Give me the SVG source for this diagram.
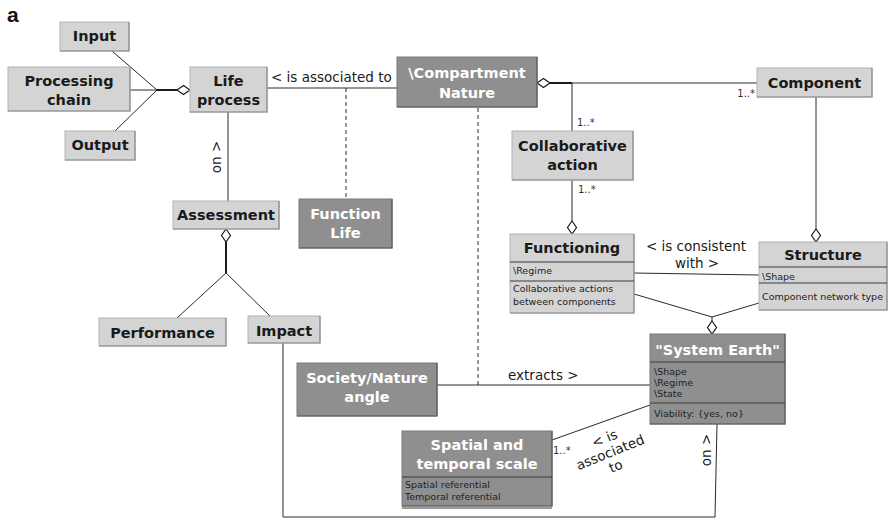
<svg xmlns="http://www.w3.org/2000/svg" width="889" height="520" viewBox="0 0 889 520">
  <style>
    .lt { fill: #d4d4d4; stroke: #b4b4b4; stroke-width: 1; }
    .dk { fill: #8f8f8f; stroke: #7a7a7a; stroke-width: 1; }
    .sh { stroke: #8a8a8a; stroke-width: 1.2; fill: none; }
    .shd { stroke: #5a5a5a; stroke-width: 1.2; fill: none; }
    .dv { stroke: #3a3a3a; stroke-width: 1; }
    .t { font-family: "DejaVu Sans", "Liberation Sans", sans-serif; font-weight: bold; font-size: 14.5px; text-anchor: middle; }
    .tl { fill: #1a1a1a; }
    .tw { fill: #ffffff; }
    .at { font-family: "DejaVu Sans", "Liberation Sans", sans-serif; font-size: 9.5px; fill: #222; }
    .lb { font-family: "DejaVu Sans", "Liberation Sans", sans-serif; font-size: 13.5px; fill: #1a1a1a; }
    .mu { font-family: "DejaVu Sans", "Liberation Sans", sans-serif; font-size: 10px; fill: #333; }
    .ln { stroke: #2a2a2a; stroke-width: 1; fill: none; }
    .th { stroke: #1a1a1a; stroke-width: 2; fill: none; }
    .ds { stroke: #2a2a2a; stroke-width: 1; stroke-dasharray: 4 3; fill: none; }
    .dm { fill: #ffffff; stroke: #1a1a1a; stroke-width: 1.2; }
  </style>

  <text x="7" y="22" style="font-family: 'Liberation Sans', Arial, sans-serif; font-weight: bold; font-size: 21px; fill: #111;">a</text>

  <!-- connectors -->
  <g id="connectors">
    <!-- Input / Processing chain / Output aggregated into Life process -->
    <line class="ln" x1="112" y1="51" x2="157" y2="90"/>
    <line class="ln" x1="130" y1="90" x2="157" y2="90"/>
    <line class="ln" x1="115" y1="131" x2="157" y2="90"/>
    <line class="th" x1="157" y1="90" x2="177" y2="90"/>
    <polygon class="dm" points="177,90 183.5,85.5 190,90 183.5,94.5"/>

    <!-- Life process to Compartment Nature -->
    <line class="ln" x1="267" y1="88" x2="397" y2="88"/>
    <text class="lb" x="271" y="82">&lt; is associated to</text>
    <line class="ds" x1="346" y1="88" x2="346" y2="199"/>

    <!-- Compartment Nature to the extracts line -->
    <line class="ds" x1="478" y1="108" x2="478" y2="385"/>

    <!-- Compartment Nature aggregates Component and Collaborative action -->
    <polygon class="dm" points="537,83 543.5,78.5 550,83 543.5,87.5"/>
    <line class="th" x1="550" y1="83" x2="572" y2="83"/>
    <line class="ln" x1="572" y1="83" x2="757" y2="83"/>
    <line class="ln" x1="572" y1="83" x2="572" y2="131"/>
    <text class="mu" x="577" y="126">1..*</text>
    <text class="mu" x="755" y="97" text-anchor="end">1..*</text>

    <!-- Collaborative action to Functioning -->
    <line class="ln" x1="572" y1="180" x2="572" y2="221"/>
    <text class="mu" x="578" y="193">1..*</text>
    <polygon class="dm" points="572,221 576.5,227.5 572,234 567.5,227.5"/>

    <!-- Component to Structure -->
    <line class="ln" x1="816" y1="97" x2="816" y2="229"/>
    <polygon class="dm" points="816,229 820.5,235.5 816,242 811.5,235.5"/>

    <!-- Functioning / Structure -->
    <line class="ln" x1="634" y1="273" x2="759" y2="275"/>
    <text class="lb" x="696" y="251" text-anchor="middle">&lt; is consistent</text>
    <text class="lb" x="697" y="268" text-anchor="middle">with &gt;</text>
    <line class="ln" x1="634" y1="294" x2="712" y2="317"/>
    <line class="ln" x1="759" y1="303" x2="712" y2="317"/>
    <line class="ln" x1="712" y1="317" x2="712" y2="321"/>
    <polygon class="dm" points="712,321 716.5,327.5 712,334 707.5,327.5"/>

    <!-- Life process on Assessment -->
    <line class="ln" x1="228" y1="112" x2="228" y2="201"/>
    <text class="lb" transform="translate(221,157) rotate(-90)" text-anchor="middle">on &gt;</text>

    <!-- Assessment aggregates Performance and Impact -->
    <polygon class="dm" points="226,229 230.5,235.5 226,242 221.5,235.5"/>
    <line class="th" x1="226" y1="242" x2="226" y2="273"/>
    <line class="ln" x1="226" y1="273" x2="177" y2="318"/>
    <line class="ln" x1="226" y1="273" x2="270" y2="316"/>

    <!-- Society/Nature angle extracts System Earth -->
    <line class="ln" x1="437" y1="385" x2="650" y2="385"/>
    <text class="lb" x="508" y="380">extracts &gt;</text>

    <!-- Spatial and temporal scale associated to System Earth -->
    <line class="ln" x1="552" y1="440" x2="650" y2="405"/>
    <text class="mu" x="553" y="454">1..*</text>
    <g transform="translate(610,452) rotate(-22)">
      <text class="lb" x="0" y="-10" text-anchor="middle">&lt; is</text>
      <text class="lb" x="0" y="5" text-anchor="middle">associated</text>
      <text class="lb" x="0" y="20" text-anchor="middle">to</text>
    </g>

    <!-- Impact on System Earth -->
    <polyline class="ln" points="283,343 283,517 715,517 717,424"/>
    <text class="lb" transform="translate(711,450) rotate(-90)" text-anchor="middle">on &gt;</text>
  </g>

  <!-- nodes -->
  <g id="input">
    <rect class="lt" x="60" y="22" width="69" height="29"/>
    <polyline class="sh" points="129,22 129,51 60,51"/>
    <text class="t tl" x="94.5" y="40.5">Input</text>
  </g>

  <g id="processing-chain">
    <rect class="lt" x="8" y="67" width="122" height="44"/>
    <polyline class="sh" points="130,67 130,111 8,111"/>
    <text class="t tl" x="69" y="86">Processing</text>
    <text class="t tl" x="69" y="105">chain</text>
  </g>

  <g id="output">
    <rect class="lt" x="65" y="131" width="70" height="29"/>
    <polyline class="sh" points="135,131 135,160 65,160"/>
    <text class="t tl" x="100" y="150">Output</text>
  </g>

  <g id="life-process">
    <rect class="lt" x="190" y="67" width="77" height="45"/>
    <polyline class="sh" points="267,67 267,112 190,112"/>
    <text class="t tl" x="228.5" y="86">Life</text>
    <text class="t tl" x="228.5" y="105">process</text>
  </g>

  <g id="compartment-nature">
    <rect class="dk" x="397" y="57" width="140" height="50"/>
    <polyline class="shd" points="537,57 537,107 397,107"/>
    <text class="t tw" x="467" y="78">\Compartment</text>
    <text class="t tw" x="467" y="98">Nature</text>
  </g>

  <g id="component">
    <rect class="lt" x="757" y="68" width="115" height="29"/>
    <polyline class="sh" points="872,68 872,97 757,97"/>
    <text class="t tl" x="814.5" y="88">Component</text>
  </g>

  <g id="collaborative-action">
    <rect class="lt" x="512" y="131" width="121" height="49"/>
    <polyline class="sh" points="633,131 633,180 512,180"/>
    <text class="t tl" x="572.5" y="151">Collaborative</text>
    <text class="t tl" x="572.5" y="170">action</text>
  </g>

  <g id="functioning">
    <rect class="lt" x="510" y="234" width="124" height="79"/>
    <polyline class="sh" points="634,234 634,313 510,313"/>
    <text class="t tl" x="572" y="253">Functioning</text>
    <line class="dv" x1="510" y1="262" x2="634" y2="262"/>
    <text class="at" x="513" y="274">\Regime</text>
    <line class="dv" x1="510" y1="281" x2="634" y2="281"/>
    <text class="at" x="513" y="292">Collaborative actions</text>
    <text class="at" x="513" y="305">between components</text>
  </g>

  <g id="structure">
    <rect class="lt" x="759" y="242" width="128" height="68"/>
    <polyline class="sh" points="887,242 887,310 759,310"/>
    <text class="t tl" x="823" y="260">Structure</text>
    <line class="dv" x1="759" y1="267" x2="887" y2="267"/>
    <text class="at" x="762" y="280">\Shape</text>
    <line class="dv" x1="759" y1="283" x2="887" y2="283"/>
    <text class="at" x="762" y="300">Component network type</text>
  </g>

  <g id="function-life">
    <rect class="dk" x="299" y="199" width="93" height="49"/>
    <polyline class="shd" points="392,199 392,248 299,248"/>
    <text class="t tw" x="345.5" y="219">Function</text>
    <text class="t tw" x="345.5" y="238">Life</text>
  </g>

  <g id="assessment">
    <rect class="lt" x="173" y="201" width="106" height="28"/>
    <polyline class="sh" points="279,201 279,229 173,229"/>
    <text class="t tl" x="226" y="219.5">Assessment</text>
  </g>

  <g id="performance">
    <rect class="lt" x="99" y="318" width="127" height="28"/>
    <polyline class="sh" points="226,318 226,346 99,346"/>
    <text class="t tl" x="162.5" y="338">Performance</text>
  </g>

  <g id="impact">
    <rect class="lt" x="248" y="316" width="72" height="27"/>
    <polyline class="sh" points="320,316 320,343 248,343"/>
    <text class="t tl" x="284" y="335.5">Impact</text>
  </g>

  <g id="system-earth">
    <rect class="dk" x="650" y="334" width="135" height="90"/>
    <polyline class="shd" points="785,334 785,424 650,424"/>
    <text class="t tw" x="717.5" y="355">"System Earth"</text>
    <line class="dv" x1="650" y1="362" x2="785" y2="362"/>
    <text class="at" x="654" y="375">\Shape</text>
    <text class="at" x="654" y="386">\Regime</text>
    <text class="at" x="654" y="397">\State</text>
    <line class="dv" x1="650" y1="403" x2="785" y2="403"/>
    <text class="at" x="654" y="417">Viability: {yes, no}</text>
  </g>

  <g id="society-nature-angle">
    <rect class="dk" x="297" y="363" width="140" height="53"/>
    <polyline class="shd" points="437,363 437,416 297,416"/>
    <text class="t tw" x="367" y="383">Society/Nature</text>
    <text class="t tw" x="367" y="402">angle</text>
  </g>

  <g id="spatial-temporal-scale">
    <rect class="dk" x="402" y="431" width="150" height="75"/>
    <polyline class="shd" points="552,431 552,506 402,506"/>
    <text class="t tw" x="477" y="450">Spatial and</text>
    <text class="t tw" x="477" y="469">temporal scale</text>
    <line class="dv" x1="402" y1="477" x2="552" y2="477"/>
    <text class="at" x="405" y="488">Spatial referential</text>
    <text class="at" x="405" y="500">Temporal referential</text>
    <line class="dv" x1="402" y1="508" x2="552" y2="508"/>
  </g>
</svg>
